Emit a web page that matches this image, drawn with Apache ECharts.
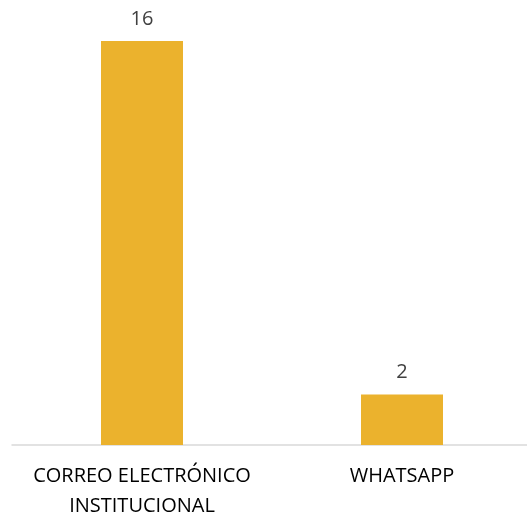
<!DOCTYPE html>
<html><head><meta charset="utf-8">
<script src="https://cdn.jsdelivr.net/npm/echarts@6/dist/echarts.min.js"></script>
<style>html,body{margin:0;padding:0;background:#fff}#c{width:527px;height:516px}</style>
</head><body><div id="c"></div>
<script>
const categories = ["CORREO ELECTRÓNICO\nINSTITUCIONAL", "WHATSAPP"];
const values = [16, 2];
const chart = echarts.init(document.getElementById('c'), null, {renderer:'canvas'});
chart.setOption({
  animation: false,
  grid: {left: 12, width: 520, top: 0, bottom: 71, containLabel: false, outerBoundsMode: 'none'},
  xAxis: {
    type: 'category', data: categories,
    axisLine: {show: true, lineStyle: {color: '#D9D9D9', width: 1.5}},
    axisTick: {show: false},
    axisLabel: {color: '#000', fontSize: 20, fontFamily: 'Open Sans', lineHeight: 30, margin: 16, interval: 0}
  },
  yAxis: {type: 'value', min: 0, max: 17.62, show: false, splitLine: {show: false}},
  series: [{
    type: 'bar', data: values, barWidth: 82,
    itemStyle: {color: '#EBB22D'},
    label: {show: true, position: 'top', distance: 12, color: '#404040', fontSize: 20, fontFamily: 'Open Sans'}
  }]
});
</script></body></html>
